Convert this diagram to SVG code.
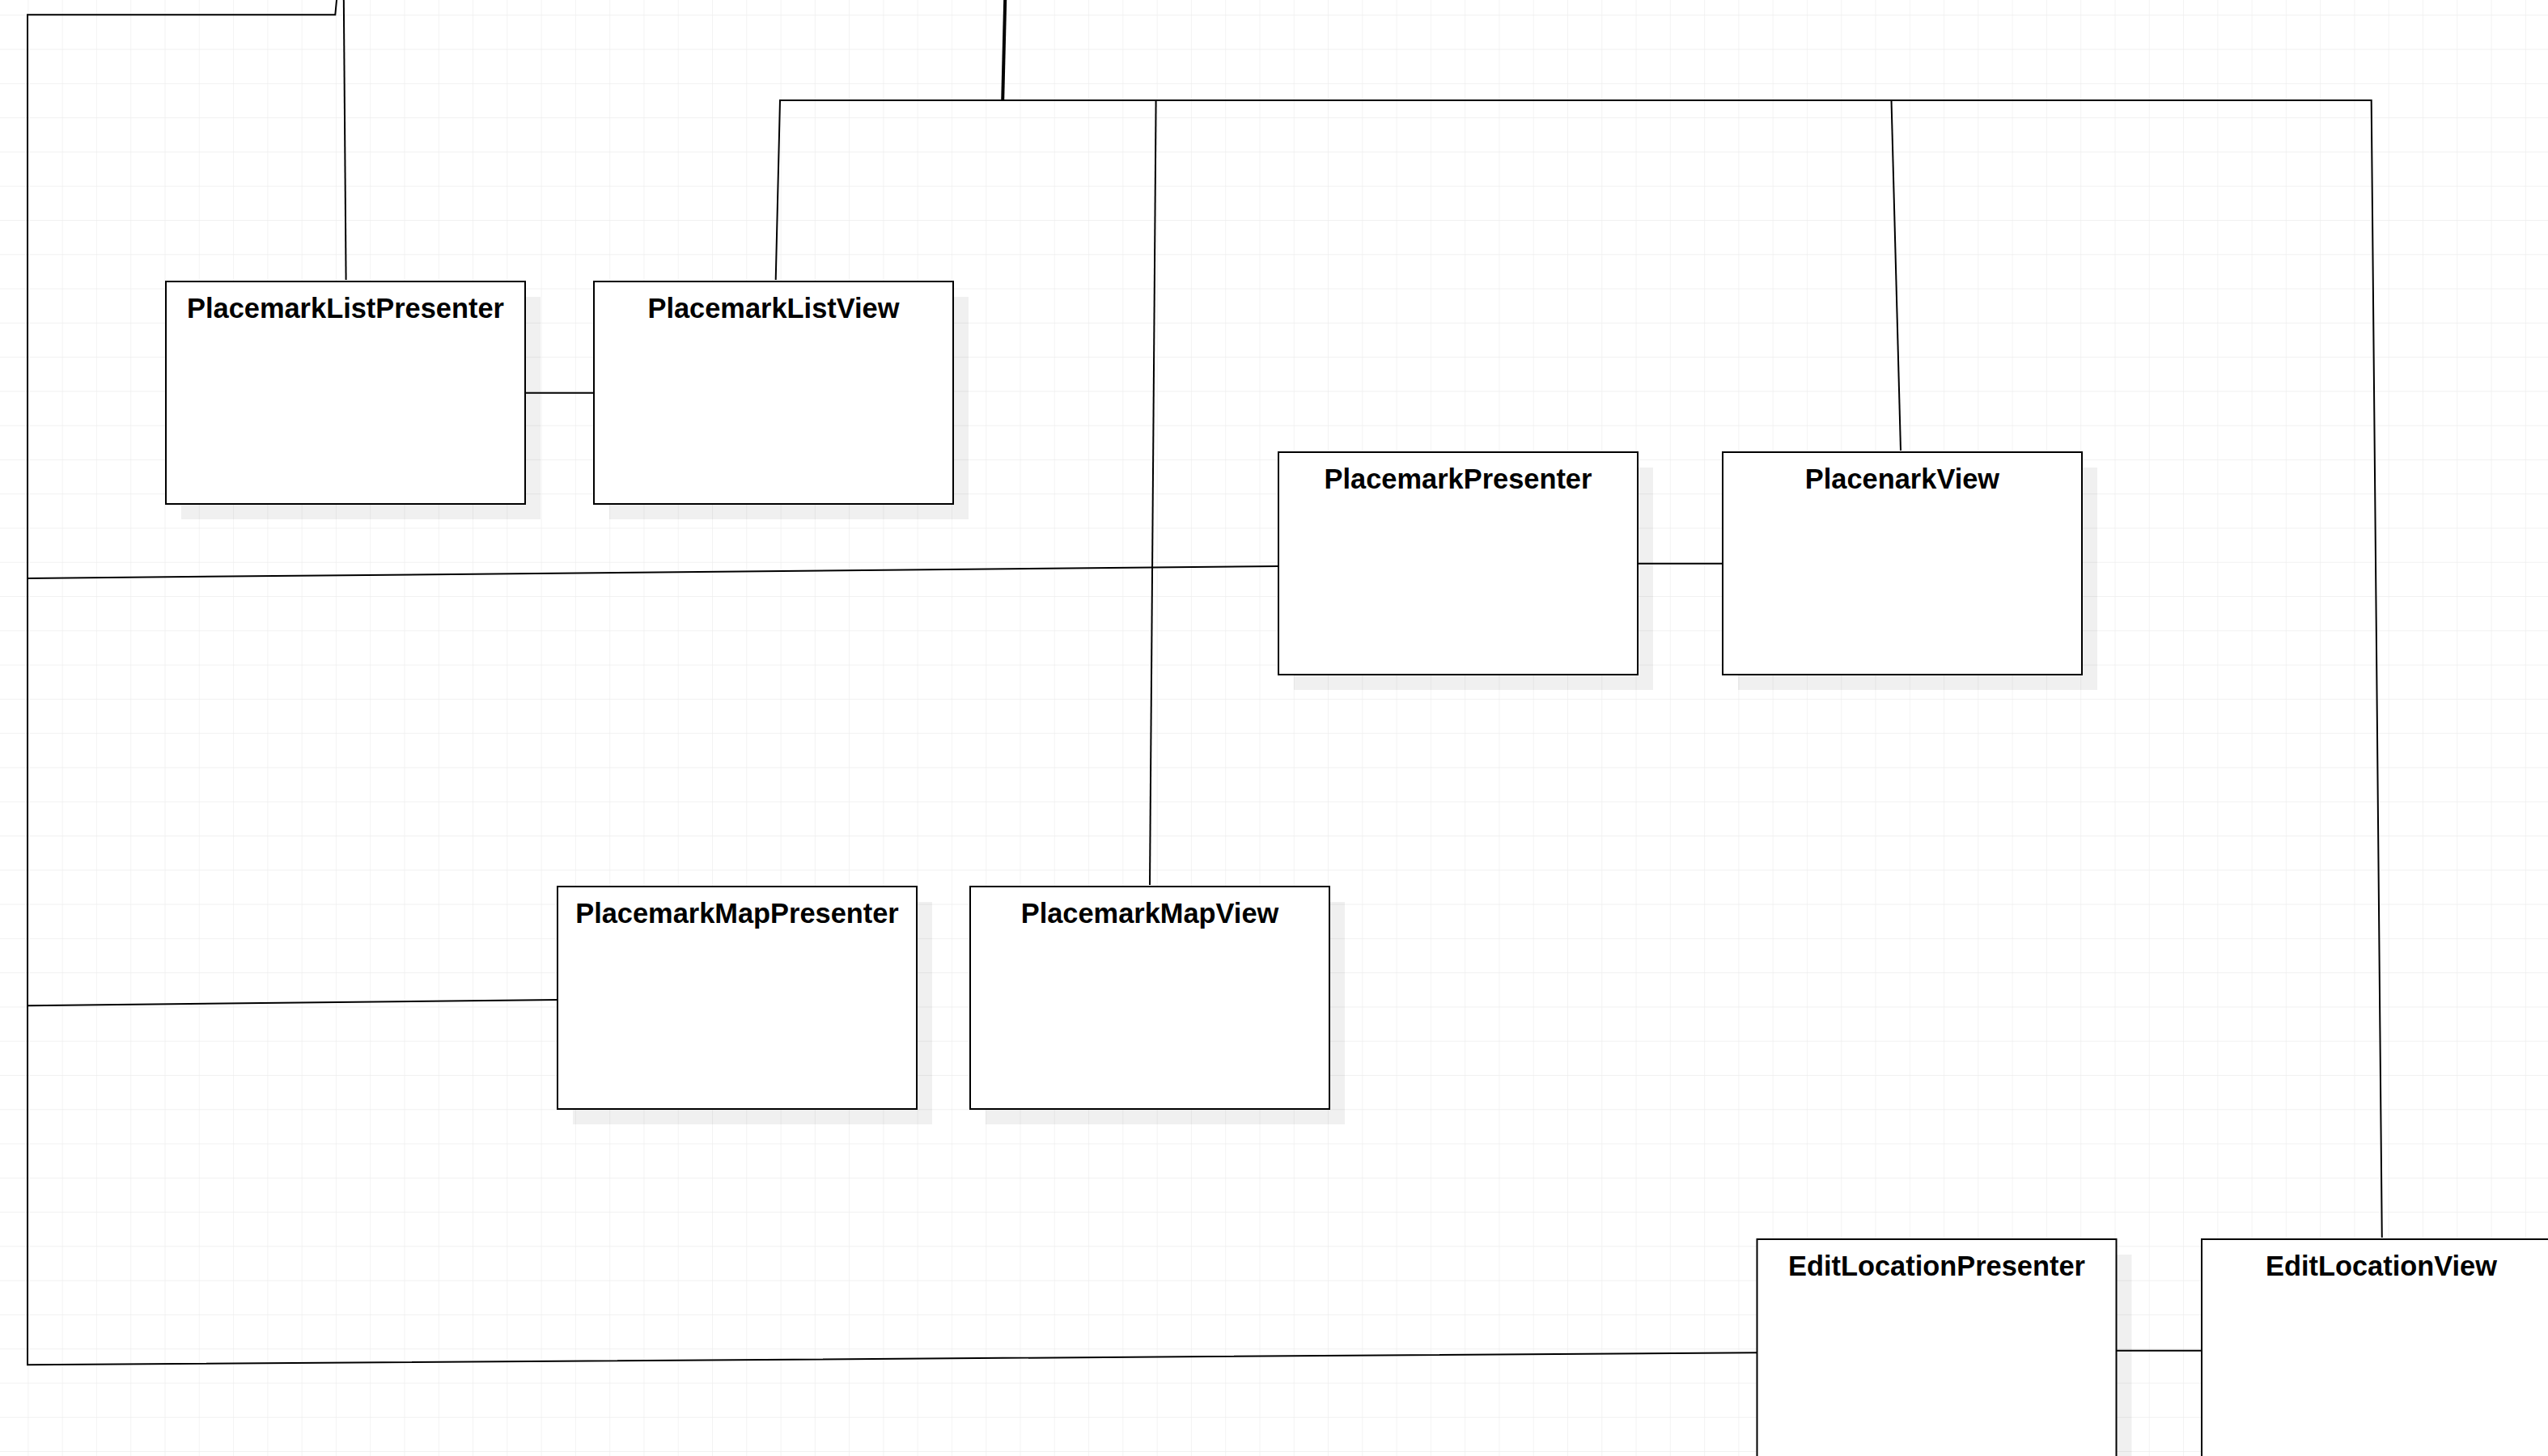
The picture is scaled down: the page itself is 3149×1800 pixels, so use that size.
<svg xmlns="http://www.w3.org/2000/svg" width="3149" height="1800" viewBox="0 0 3149 1800">
  <style>
    .box { fill: #ffffff; stroke: #000000; stroke-width: 2; }
    .shadow { fill: #000000; fill-opacity: 0.06; }
    .label { font-family: "Liberation Sans", Arial, sans-serif; font-weight: bold; font-size: 34.4px; fill: #000000; text-anchor: middle; }
    .conn { fill: none; stroke: #000000; stroke-width: 2; stroke-linejoin: miter; }
  </style>
  <defs>
    <pattern id="grid" patternUnits="userSpaceOnUse" x="34.4" y="18.3" width="42.28" height="42.28">
      <path d="M 42.28 0 L 0 0 0 42.28" fill="none" stroke="#ededed" stroke-width="1.3"/>
    </pattern>
  </defs>
  <rect x="0" y="0" width="3149" height="1800" fill="#ffffff"/>
  <rect x="0" y="0" width="3149" height="1800" fill="url(#grid)"/>

  <g id="connectors">
    <polyline class="conn" points="416.6,-6 414.3,18.3 34,18.3 34,1687.3 2171.5,1672.3"/>
    <line class="conn" x1="34" y1="715" x2="1580" y2="700"/>
    <line class="conn" x1="34" y1="1243.3" x2="689" y2="1236"/>
    <line class="conn" x1="424.8" y1="-4" x2="427.6" y2="346"/>
    <line class="conn" x1="1242.3" y1="-4" x2="1239.2" y2="124" style="stroke-width:4"/>
    <polyline class="conn" points="958.7,346 964,124 2930.7,124 2943.8,1530"/>
    <line class="conn" x1="1428.6" y1="124" x2="1421" y2="1094"/>
    <line class="conn" x1="2337.5" y1="124" x2="2349" y2="557"/>
    <line class="conn" x1="649" y1="485.7" x2="734" y2="485.7"/>
    <line class="conn" x1="2024" y1="696.7" x2="2129" y2="696.7"/>
    <line class="conn" x1="2615.5" y1="1669.7" x2="2721" y2="1669.7"/>
  </g>

  <g id="PlacemarkListPresenter">
    <rect class="shadow" x="224" y="367" width="444" height="275"/>
    <rect class="box" x="205" y="348" width="444" height="275"/>
    <text class="label" x="427" y="393">PlacemarkListPresenter</text>
  </g>
  <g id="PlacemarkListView">
    <rect class="shadow" x="753" y="367" width="444" height="275"/>
    <rect class="box" x="734" y="348" width="444" height="275"/>
    <text class="label" x="956" y="393">PlacemarkListView</text>
  </g>
  <g id="PlacemarkPresenter">
    <rect class="shadow" x="1599" y="578" width="444" height="275"/>
    <rect class="box" x="1580" y="559" width="444" height="275"/>
    <text class="label" x="1802" y="604">PlacemarkPresenter</text>
  </g>
  <g id="PlacenarkView">
    <rect class="shadow" x="2148" y="578" width="444" height="275"/>
    <rect class="box" x="2129" y="559" width="444" height="275"/>
    <text class="label" x="2351" y="604">PlacenarkView</text>
  </g>
  <g id="PlacemarkMapPresenter">
    <rect class="shadow" x="708" y="1115" width="444" height="275"/>
    <rect class="box" x="689" y="1096" width="444" height="275"/>
    <text class="label" x="911" y="1141">PlacemarkMapPresenter</text>
  </g>
  <g id="PlacemarkMapView">
    <rect class="shadow" x="1218" y="1115" width="444" height="275"/>
    <rect class="box" x="1199" y="1096" width="444" height="275"/>
    <text class="label" x="1421" y="1141">PlacemarkMapView</text>
  </g>
  <g id="EditLocationPresenter">
    <rect class="shadow" x="2190.5" y="1551" width="444" height="275"/>
    <rect class="box" x="2171.5" y="1532" width="444" height="275"/>
    <text class="label" x="2393.5" y="1577">EditLocationPresenter</text>
  </g>
  <g id="EditLocationView">
    <rect class="shadow" x="2740" y="1551" width="444" height="275"/>
    <rect class="box" x="2721" y="1532" width="444" height="275"/>
    <text class="label" x="2943" y="1577">EditLocationView</text>
  </g>
</svg>
